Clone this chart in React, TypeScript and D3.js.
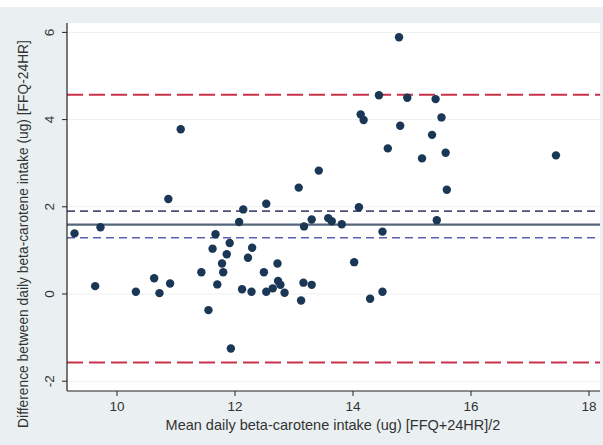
import * as d3 from "d3";

// Bland-Altman: mean of FFQ and 24HR (x) vs difference (y)
const meanIntake = [
  9.28, 9.63, 9.72, 10.32, 10.63, 10.72, 10.87, 10.9, 11.08, 11.43, 11.55,
  11.62, 11.67, 11.7, 11.78, 11.8, 11.86, 11.91, 11.93, 12.07, 12.12, 12.14,
  12.22, 12.28, 12.29, 12.49, 12.53, 12.53, 12.64, 12.72, 12.73, 12.77, 12.84,
  13.08, 13.12, 13.16, 13.17, 13.3, 13.3, 13.42, 13.58, 13.64, 13.81, 14.02,
  14.1, 14.13, 14.18, 14.29, 14.44, 14.5, 14.5, 14.59, 14.78, 14.8, 14.92,
  15.17, 15.34, 15.4, 15.42, 15.5, 15.57, 15.59, 17.44,
];
const diffIntake = [
  1.39, 0.18, 1.53, 0.05, 0.36, 0.02, 2.18, 0.24, 3.78, 0.5, -0.37, 1.04,
  1.37, 0.22, 0.7, 0.5, 0.91, 1.17, -1.25, 1.65, 0.11, 1.94, 0.83, 0.05, 1.06,
  0.5, 2.07, 0.05, 0.13, 0.7, 0.3, 0.21, 0.03, 2.44, -0.15, 0.26, 1.55, 1.71,
  0.21, 2.83, 1.74, 1.67, 1.6, 0.73, 1.99, 4.12, 3.99, -0.11, 4.56, 1.43, 0.05,
  3.34, 5.89, 3.86, 4.5, 3.11, 3.65, 4.47, 1.69, 4.05, 3.24, 2.39, 3.18,
];

const xTicks = [10, 12, 14, 16, 18];
const yTicks = [-2, 0, 2, 4, 6];

const meanDiff = 1.59;
const ciLower = 1.29;
const ciUpper = 1.9;
const loaLower = -1.57;
const loaUpper = 4.57;

export default function App() {
  const W = 603,
    H = 445;
  const left = 67,
    right = 600,
    top = 23,
    bottom = 391;

  const x = d3.scaleLinear().domain([12, 18]).range([235, 589]);
  const y = d3.scaleLinear().domain([0, 6]).range([294, 32.4]);

  const font = "'Liberation Sans', Arial, sans-serif";
  const points = d3.zip(meanIntake, diffIntake);

  const hline = (v: number, color: string, width: number, dash?: string) => (
    <line
      x1={left}
      x2={right}
      y1={y(v)}
      y2={y(v)}
      stroke={color}
      strokeWidth={width}
      strokeDasharray={dash}
    />
  );

  return (
    <svg
      width={W}
      height={H}
      style={{ position: "absolute", left: 0, top: 0, display: "block" }}
      fontFamily={font}
    >
      <rect x={0} y={0} width={W} height={H} fill="#fff" />
      <rect x={0} y={7} width={W} height={H - 7} fill="#eaf0f2" />
      <rect x={left} y={top} width={right - left} height={bottom - top} fill="#fff" />

      {yTicks.map((t) => (
        <line key={"g" + t} x1={left} x2={right} y1={y(t)} y2={y(t)} stroke="#eef0ef" strokeWidth={1} />
      ))}

      {hline(loaUpper, "#c8324a", 2, "16 6")}
      {hline(loaLower, "#c8324a", 2, "16 6")}
      {hline(ciUpper, "#4c5275", 1.6, "8 5")}
      {hline(ciLower, "#5c5fb0", 1.6, "8 5")}
      {hline(meanDiff, "#56657a", 2.2)}

      {points.map(([a, b], i) => (
        <circle key={i} cx={x(a)} cy={y(b)} r={4.2} fill="#1b3756" />
      ))}

      <line x1={left} x2={left} y1={top} y2={bottom} stroke="#222" strokeWidth={1.2} />
      <line x1={left} x2={right} y1={bottom} y2={bottom} stroke="#222" strokeWidth={1.2} />

      {yTicks.map((t) => (
        <g key={"y" + t}>
          <line x1={left - 5} x2={left} y1={y(t)} y2={y(t)} stroke="#222" strokeWidth={1} />
          <text
            transform={`translate(${left - 13},${y(t)}) rotate(-90)`}
            textAnchor="middle"
            fontSize={13.5}
            fill="#333"
          >
            {t}
          </text>
        </g>
      ))}

      {xTicks.map((t) => (
        <g key={"x" + t}>
          <line x1={x(t)} x2={x(t)} y1={bottom} y2={bottom + 5} stroke="#222" strokeWidth={1} />
          <text x={x(t)} y={bottom + 20} textAnchor="middle" fontSize={13.5} fill="#333">
            {t}
          </text>
        </g>
      ))}

      <text x={333} y={430} textAnchor="middle" fontSize={14.5} fill="#333">
        Mean daily beta-carotene intake (ug) [FFQ+24HR]/2
      </text>
      <text
        transform={`translate(28,234) rotate(-90)`}
        textAnchor="middle"
        fontSize={13.8}
        fill="#333"
      >
        Difference between daily beta-carotene intake (ug) [FFQ-24HR]
      </text>
    </svg>
  );
}
